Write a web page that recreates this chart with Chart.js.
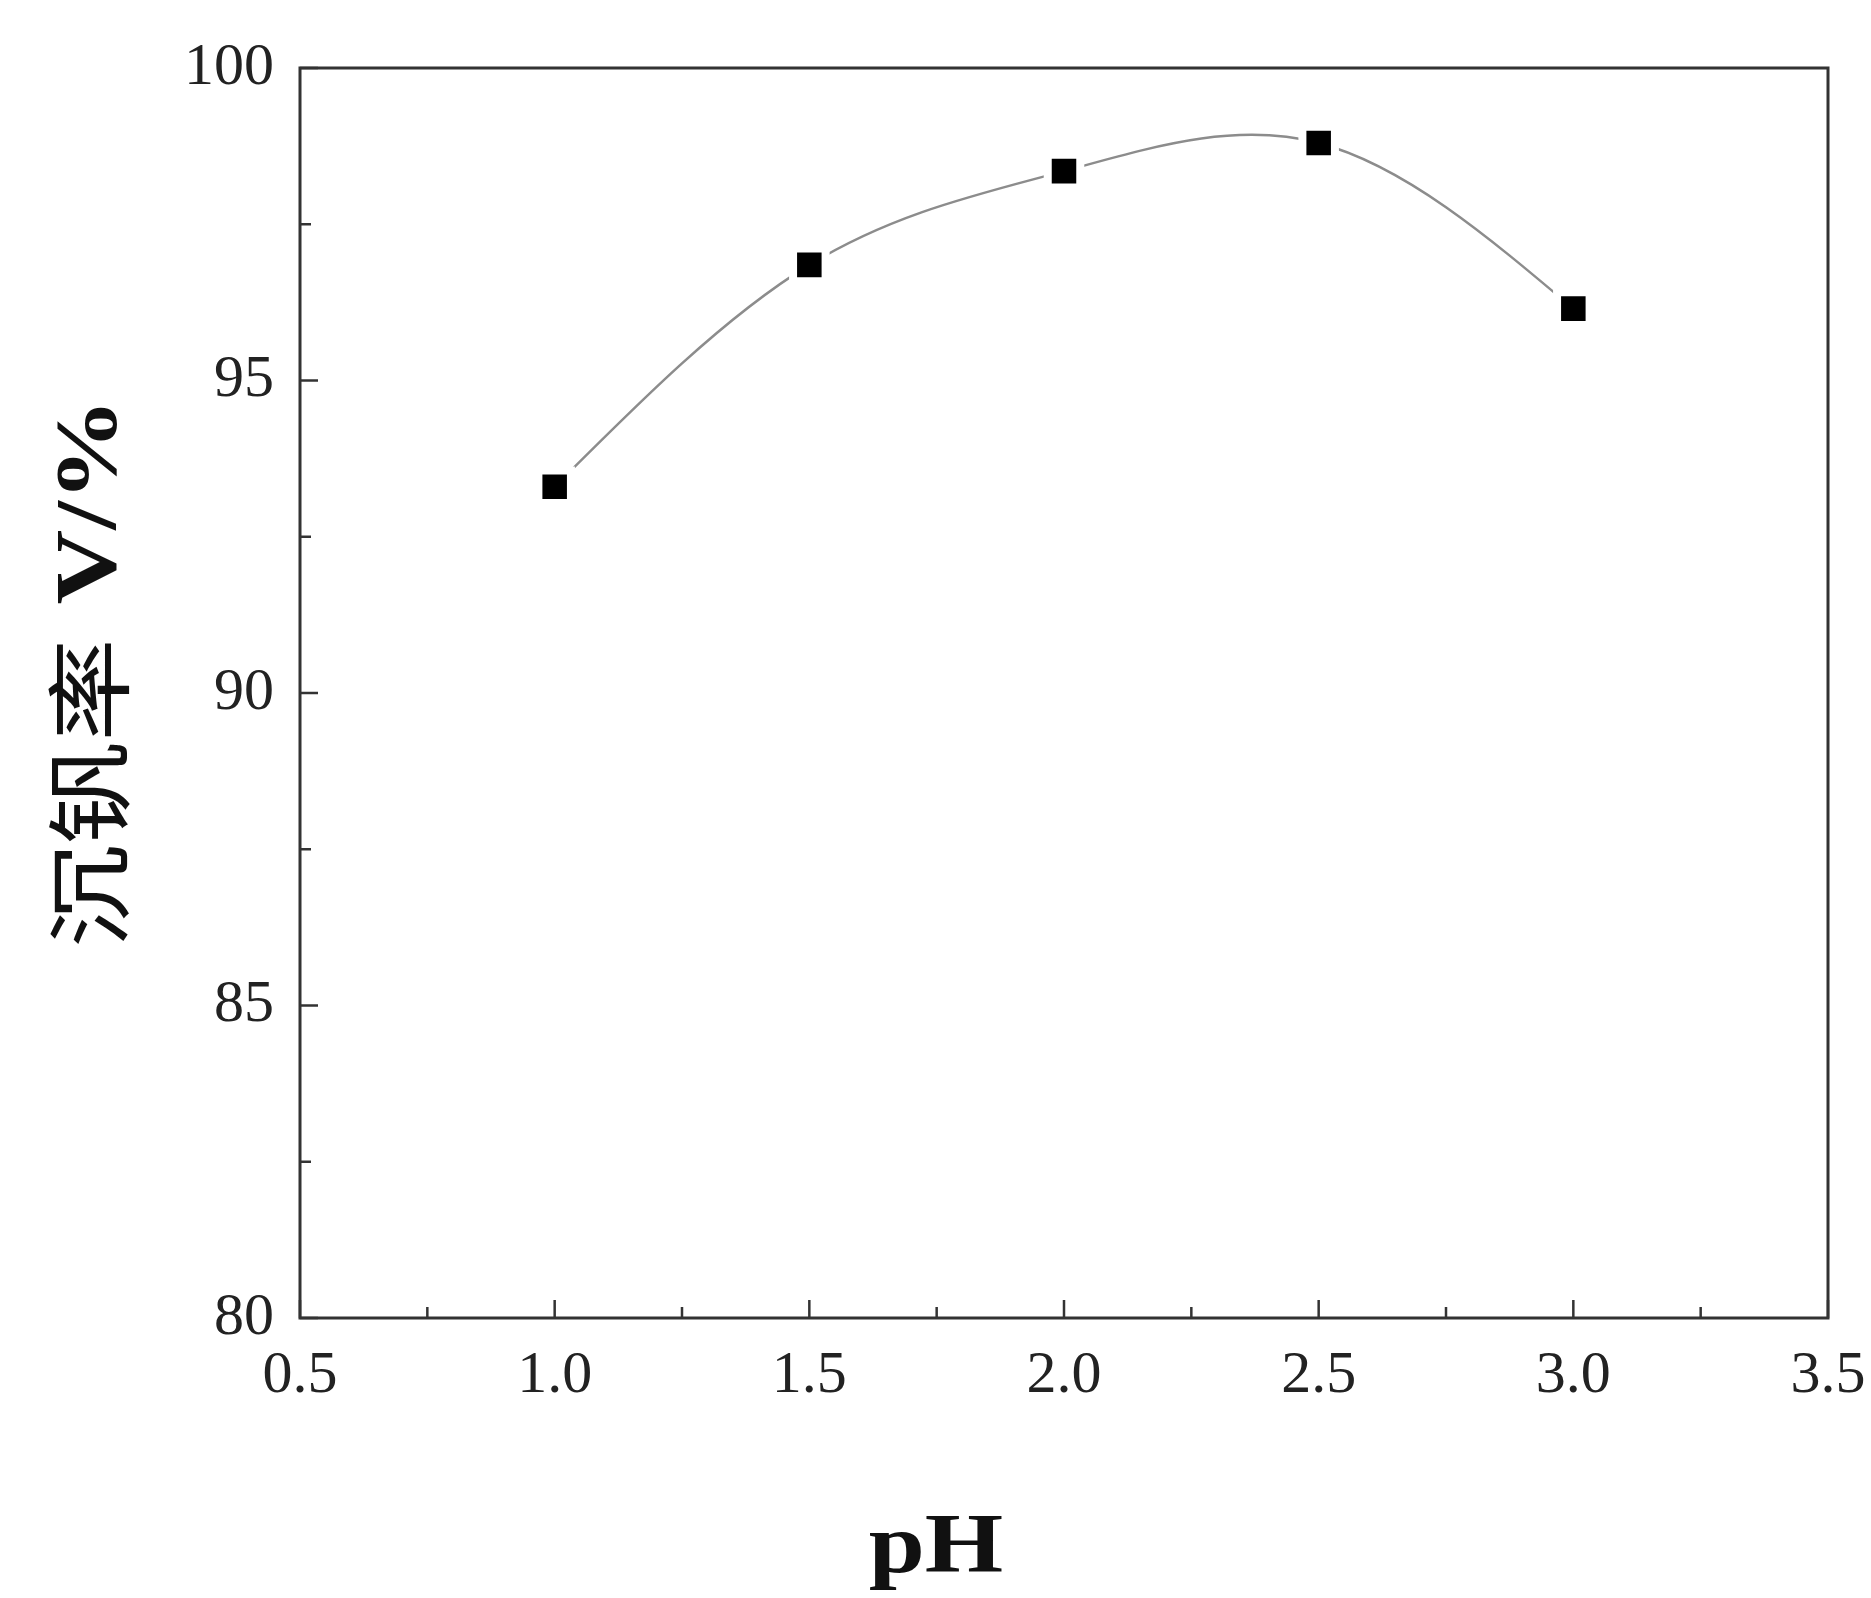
<!DOCTYPE html>
<html><head><meta charset="utf-8">
<script src="https://cdn.jsdelivr.net/npm/chart.js@4/dist/chart.umd.min.js"></script>
<style>html,body{margin:0;padding:0;background:#fff;}#wrap{width:1871px;height:1598px;}</style>
</head><body><div id="wrap"><canvas id="c" width="1871" height="1598" style="width:1871px;height:1598px"></canvas></div>
<script>
const phValues = [1.0, 1.5, 2.0, 2.5, 3.0];
const precipitationRate = [93.3, 96.85, 98.35, 98.8, 96.15];
const xTickLabels = ['0.5', '1.0', '1.5', '2.0', '2.5', '3.0', '3.5'];
const yTickLabels = ['80', '85', '90', '95', '100'];
const xTitle = 'pH';
const yTitleCjk = '沉钒率';
const yTitleLatin = 'V/%';

const points = phValues.map((x, i) => ({x: x, y: precipitationRate[i]}));
const AXIS = '#333333';
const SERIF = "'Liberation Serif', 'DejaVu Serif', serif";

// Natural cubic spline control points (computed in pixel space from the elements placed by the scales)
const splinePlugin = {
  id: 'naturalSpline',
  beforeDatasetDraw(chart, args) {
    if (args.index !== 1) return;
    const meta = args.meta, line = meta.dataset, pts = meta.data;
    const n = pts.length;
    if (n < 3) return;
    const X = pts.map(p => p.x), Y = pts.map(p => p.y);
    const h = []; for (let i = 0; i < n - 1; i++) h.push(X[i + 1] - X[i]);
    const a = new Array(n).fill(0), b = new Array(n).fill(1), c = new Array(n).fill(0), d = new Array(n).fill(0);
    for (let i = 1; i < n - 1; i++) {
      a[i] = h[i - 1]; b[i] = 2 * (h[i - 1] + h[i]); c[i] = h[i];
      d[i] = 6 * ((Y[i + 1] - Y[i]) / h[i] - (Y[i] - Y[i - 1]) / h[i - 1]);
    }
    for (let i = 1; i < n; i++) { const m = a[i] / b[i - 1]; b[i] -= m * c[i - 1]; d[i] -= m * d[i - 1]; }
    const M = new Array(n).fill(0);
    M[n - 1] = d[n - 1] / b[n - 1];
    for (let i = n - 2; i >= 0; i--) M[i] = (d[i] - c[i] * M[i + 1]) / b[i];
    for (let i = 0; i < n - 1; i++) {
      const sL = (Y[i + 1] - Y[i]) / h[i] - h[i] * (2 * M[i] + M[i + 1]) / 6;
      const sR = (Y[i + 1] - Y[i]) / h[i] + h[i] * (M[i] + 2 * M[i + 1]) / 6;
      pts[i].cp2x = X[i] + h[i] / 3; pts[i].cp2y = Y[i] + sL * h[i] / 3;
      pts[i + 1].cp1x = X[i + 1] - h[i] / 3; pts[i + 1].cp1y = Y[i + 1] - sR * h[i] / 3;
    }
    pts[0].cp1x = X[0]; pts[0].cp1y = Y[0];
    pts[n - 1].cp2x = X[n - 1]; pts[n - 1].cp2y = Y[n - 1];
    line._pointsUpdated = true;
    line._path = undefined;
  }
};

const framePlugin = {
  id: 'frameTicks',
  afterDraw(chart) {
    const ctx = chart.ctx, ar = chart.chartArea;
    const xs = chart.scales.x, ys = chart.scales.y;
    ctx.save();
    ctx.strokeStyle = AXIS;
    ctx.lineWidth = 3;
    ctx.strokeRect(ar.left, ar.top, ar.right - ar.left, ar.bottom - ar.top);
    ctx.lineWidth = 2.5;
    const major = 18, minor = 11;
    const xt = xs.ticks.map(t => t.value);
    xt.forEach((v, i) => {
      const px = xs.getPixelForValue(v);
      ctx.beginPath(); ctx.moveTo(px, ar.bottom); ctx.lineTo(px, ar.bottom - major); ctx.stroke();
      if (i < xt.length - 1) {
        const mx = xs.getPixelForValue((v + xt[i + 1]) / 2);
        ctx.beginPath(); ctx.moveTo(mx, ar.bottom); ctx.lineTo(mx, ar.bottom - minor); ctx.stroke();
      }
    });
    const yt = ys.ticks.map(t => t.value);
    yt.forEach((v, i) => {
      const py = ys.getPixelForValue(v);
      ctx.beginPath(); ctx.moveTo(ar.left, py); ctx.lineTo(ar.left + major, py); ctx.stroke();
      if (i < yt.length - 1) {
        const my = ys.getPixelForValue((v + yt[i + 1]) / 2);
        ctx.beginPath(); ctx.moveTo(ar.left, my); ctx.lineTo(ar.left + minor, my); ctx.stroke();
      }
    });
    ctx.restore();

    // y axis title (rotated): CJK part + bold latin part
    ctx.save();
    const cx = ar.left - 211, cy = (ar.top + ar.bottom) / 2 - 20;
    const stretch = 1.2;
    const f1 = "400 86px 'Noto Sans CJK SC'";
    const f2 = "bold 86px " + SERIF;
    const gap = 34;
    ctx.font = f1; const w1 = ctx.measureText(yTitleCjk).width * stretch;
    ctx.font = f2; const w2 = ctx.measureText(yTitleLatin).width * stretch;
    const total = w1 + gap + w2;
    ctx.translate(cx, cy);
    ctx.rotate(-Math.PI / 2);
    ctx.fillStyle = '#111';
    ctx.textBaseline = 'middle';
    ctx.textAlign = 'left';
    ctx.save(); ctx.translate(-total / 2, 0); ctx.scale(stretch, 1);
    ctx.font = f1; ctx.fillText(yTitleCjk, 0, 0); ctx.restore();
    ctx.save(); ctx.translate(-total / 2 + w1 + gap, 4); ctx.scale(stretch, 1);
    ctx.font = f2; ctx.fillText(yTitleLatin, 0, 0); ctx.restore();
    ctx.restore();

    // x axis title
    ctx.save();
    const tx = (ar.left + ar.right) / 2 - 128, ty = ar.bottom + 232;
    ctx.translate(tx, ty);
    ctx.scale(1.2, 1);
    ctx.font = "bold 84px " + SERIF;
    ctx.fillStyle = '#111';
    ctx.textAlign = 'center';
    ctx.textBaseline = 'middle';
    ctx.fillText(xTitle, 0, 0);
    ctx.restore();
  }
};

new Chart(document.getElementById('c'), {
  type: 'scatter',
  data: {
    datasets: [
      {
        label: 'markers',
        data: points,
        showLine: false,
        pointStyle: 'rect',
        pointRadius: 23,
        pointHoverRadius: 23,
        backgroundColor: '#000000',
        borderColor: '#ffffff',
        pointBorderWidth: 8,
        borderWidth: 8
      },
      {
        label: 'fit',
        data: points,
        showLine: true,
        tension: 0.4,
        borderColor: '#8c8c8c',
        borderWidth: 2.5,
        pointRadius: 0,
        fill: false
      }
    ]
  },
  options: {
    responsive: false,
    animation: false,
    devicePixelRatio: 1,
    layout: { padding: { top: 68, right: 43, left: 0, bottom: 0 } },
    plugins: { legend: { display: false }, tooltip: { enabled: false } },
    scales: {
      x: {
        type: 'linear', min: 0.5, max: 3.5,
        afterFit(s) { s.height = 280; s.paddingRight = 0; s.paddingLeft = 0; },
        grid: { display: false, drawTicks: false },
        border: { display: false },
        ticks: {
          stepSize: 0.5, padding: 22, color: '#222',
          font: { family: SERIF, size: 60 },
          callback: (v, i) => xTickLabels[i]
        },
        title: { display: false }
      },
      y: {
        type: 'linear', min: 80, max: 100,
        afterFit(s) { s.width = 300; s.paddingTop = 0; s.paddingBottom = 0; },
        grid: { display: false, drawTicks: false },
        border: { display: false },
        ticks: {
          stepSize: 5, padding: 26, color: '#222',
          font: { family: SERIF, size: 60 },
          callback: (v, i) => yTickLabels[i]
        },
        title: { display: false }
      }
    }
  },
  plugins: [splinePlugin, framePlugin]
});
</script></body></html>
